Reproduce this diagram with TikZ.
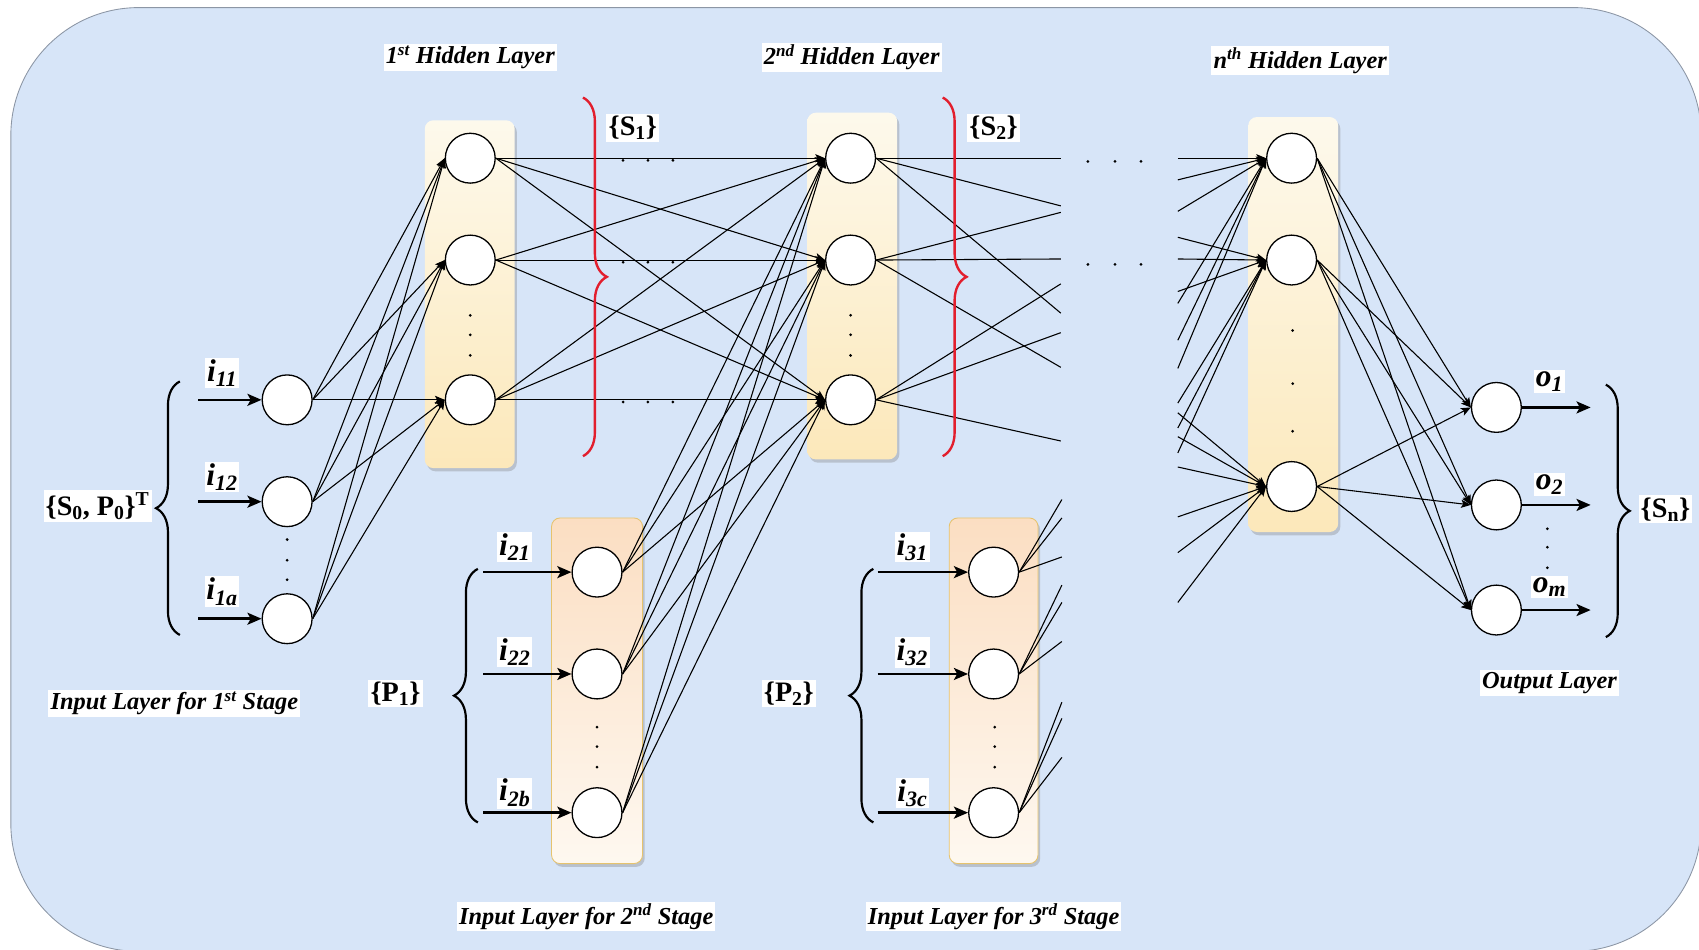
\documentclass[tikz,border=0pt]{standalone}
\usepackage{fontspec}
\setmainfont{Liberation Serif}
\usetikzlibrary{arrows.meta,shadows,decorations.pathreplacing}
\definecolor{bgblue}{RGB}{215,229,248}
\definecolor{bgborder}{RGB}{140,150,165}
\definecolor{hidtop}{RGB}{253,249,236}
\definecolor{hidbot}{RGB}{252,232,186}
\definecolor{intop}{RGB}{251,222,194}
\definecolor{inbot}{RGB}{254,248,240}
\definecolor{inborder}{RGB}{230,195,110}
\definecolor{bracered}{RGB}{226,30,45}
\pgfdeclarelayer{bglayer}
\pgfdeclarelayer{edgelayer}
\pgfsetlayers{bglayer,edgelayer,main}
\begin{document}
\begin{tikzpicture}[x=1pt,y=-1pt,
  bgframe/.style={fill=bgblue,draw=bgborder,line width=0.8pt,rounded corners=118pt},
  neuron/.style={circle,draw=black,fill=white,line width=1.2pt,minimum size=46pt,inner sep=0pt},
  hidbox/.style={rounded corners=8pt,top color=hidtop,bottom color=hidbot,
     drop shadow={shadow xshift=2pt,shadow yshift=-3pt,opacity=0.35,fill=gray}},
  inbox/.style={rounded corners=8pt,top color=intop,bottom color=inbot,draw=inborder,line width=0.8pt,
     drop shadow={shadow xshift=2pt,shadow yshift=-3pt,opacity=0.35,fill=gray}},
  conn/.style={line width=1pt,-{Stealth[length=9pt,width=7.5pt,inset=2pt]}},
  stub/.style={line width=1pt},
  inarrow/.style={line width=2.4pt,-{Stealth[length=13pt,width=11pt,inset=3pt]}},
  lbl/.style={fill=white,inner sep=2pt,font=\fontsize{22.5}{25}\selectfont\bfseries\itshape},
  setlbl/.style={fill=white,inner sep=2pt,font=\fontsize{26}{28}\selectfont\bfseries},
  ilbl/.style={fill=white,inner sep=1.5pt,font=\fontsize{29}{31}\selectfont\bfseries\itshape},
  blkbrace/.style={decorate,decoration={brace,amplitude=22pt},line width=2pt,draw=black},
  redbrace/.style={decorate,decoration={brace,amplitude=22pt},line width=2.2pt,draw=bracered}
]
\useasboundingbox (0,0) rectangle (1568,876);
\begin{pgfonlayer}{bglayer}
\draw[bgframe] (10,7) rectangle (1570,878);
\node[hidbox,minimum width=83pt,minimum height=321pt] (hbox1) at (433.5,271.5) {};
\node[hidbox,minimum width=83pt,minimum height=320pt] (hbox2) at (786.5,264) {};
\node[hidbox,minimum width=83pt,minimum height=383pt] (hboxn) at (1193.5,299.5) {};
\node[inbox,minimum width=84pt,minimum height=319pt] (ibox2) at (551,637.5) {};
\node[inbox,minimum width=82pt,minimum height=319pt] (ibox3) at (917,637.5) {};
\end{pgfonlayer}

% neurons
\foreach \n/\x/\y in {A1/265/369,A2/265/463,A3/265/571,
  H1a/434/146,H1b/434/240,H1c/434/369,
  H2a/785/146,H2b/785/240,H2c/785/369,
  B1/551/528,B2/551/622,B3/551/750,
  C1/917/528,C2/917/622,C3/917/750,
  Hna/1192/146,Hnb/1192/240,Hnc/1192/449,
  O1/1381/376,O2/1381/466,O3/1381/563}
  \node[neuron] (\n) at (\x,\y) {};

% free ends
\foreach \n/\x/\y in {ia1/183/369,ia2/183/463,ia3/183/571,
  ib1/446/528,ib2/446/622,ib3/446/750,
  ic1/810/528,ic2/810/622,ic3/810/750,
  oa1/1468/376,oa2/1468/466,oa3/1468/563,
  sa1/979/146,sa2/979/190,sa3/979/289,
  sb1/979/196,sb2/979/239,sb3/979/339,
  sc1/979/262,sc2/979/307,sc3/979/407,
  ta1/980/461,ta2/980/478,ta3/980/514,
  tb1/980/540,tb2/980/556,tb3/980/592,
  tc1/980/648,tc2/980/663,tc3/980/699,
  qa1/1087/146,qa2/1087/166,qa3/1087/195,qa4/1087/280,qa5/1087/314,qa6/1087/340,
  qb1/1087/219,qb2/1087/239,qb3/1087/269,qb4/1087/372,qb5/1087/395,qb6/1087/418,
  qc1/1087/381,qc2/1087/403,qc3/1087/431,qc4/1087/477,qc5/1087/510,qc6/1087/556}
  \coordinate (\n) at (\x,\y);

\begin{pgfonlayer}{edgelayer}
\foreach \s in {A1,A2,A3} \foreach \t in {H1a,H1b,H1c} \draw[conn] (\s.east) -- (\t.west);
\foreach \s in {H1a,H1b,H1c} \foreach \t in {H2a,H2b,H2c} \draw[conn] (\s.east) -- (\t.west);
\foreach \s in {B1,B2,B3} \foreach \t in {H2a,H2b,H2c} \draw[conn] (\s.east) -- (\t.west);
\foreach \s in {Hna,Hnb,Hnc} \foreach \t in {O1,O2,O3} \draw[conn] (\s.east) -- (\t.west);
\foreach \i in {1,2,3} {
  \draw[stub] (H2a.east) -- (sa\i);
  \draw[stub] (H2b.east) -- (sb\i);
  \draw[stub] (H2c.east) -- (sc\i);
  \draw[stub] (C1.east) -- (ta\i);
  \draw[stub] (C2.east) -- (tb\i);
  \draw[stub] (C3.east) -- (tc\i);
}
\foreach \i in {1,...,6} {
  \draw[conn] (qa\i) -- (Hna.west);
  \draw[conn] (qb\i) -- (Hnb.west);
  \draw[conn] (qc\i) -- (Hnc.west);
}
\end{pgfonlayer}

% input / output arrows
\draw[inarrow] (ia1) -- (A1.west);
\draw[inarrow] (ia2) -- (A2.west);
\draw[inarrow] (ia3) -- (A3.west);
\draw[inarrow] (ib1) -- (B1.west);
\draw[inarrow] (ib2) -- (B2.west);
\draw[inarrow] (ib3) -- (B3.west);
\draw[inarrow] (ic1) -- (C1.west);
\draw[inarrow] (ic2) -- (C2.west);
\draw[inarrow] (ic3) -- (C3.west);
\draw[inarrow] (O1.east) -- (oa1);
\draw[inarrow] (O2.east) -- (oa2);
\draw[inarrow] (O3.east) -- (oa3);

% dots
\foreach \x/\y in {265/498,265/517,265/535, 434/291,434/309,434/328, 785/291,785/309,785/328,
  1193/305,1193/354,1193/398, 551/671,551/689,551/708, 918/671,918/689,918/708,
  1428/488,1428/505,1428/524,
  575/148,598/148,621/148, 575/242,598/242,621/242, 575/371,598/371,621/371,
  1004/149,1029/149,1053/149, 1004/244,1029/244,1053/244}
  \fill[black] (\x,\y) circle[radius=1.4pt];

% braces
\draw[blkbrace] (166,586) -- (166,352);
\draw[blkbrace] (441,759) -- (441,525);
\draw[blkbrace] (806,759) -- (806,525);
\draw[blkbrace] (1482,355) -- (1482,588);
\draw[redbrace] (538,90) -- (538,421);
\draw[redbrace] (870,90) -- (870,421);

% labels
\node[lbl] (t1) at (434,53) {1\textsuperscript{st} Hidden Layer};
\node[lbl] (t2) at (786,53) {2\textsuperscript{nd} Hidden Layer};
\node[lbl] (tn) at (1200,56) {n\textsuperscript{th} Hidden Layer};
\node[lbl] (tin1) at (161,649) {Input Layer for 1\textsuperscript{st} Stage};
\node[lbl] (tin2) at (541,846) {Input Layer for 2\textsuperscript{nd} Stage};
\node[lbl] (tin3) at (917,846) {Input Layer for 3\textsuperscript{rd} Stage};
\node[lbl] (tout) at (1430,630) {Output Layer};

\node[setlbl] (ls0) at (90,467) {\{S\textsubscript{0}, P\textsubscript{0}\}\textsuperscript{T}};
\node[setlbl] (ls1) at (584,118) {\{S\textsubscript{1}\}};
\node[setlbl] (ls2) at (917,118) {\{S\textsubscript{2}\}};
\node[setlbl] (lsn) at (1537,470) {\{S\textsubscript{n}\}};
\node[setlbl] (lp1) at (365,640) {\{P\textsubscript{1}\}};
\node[setlbl] (lp2) at (728,640) {\{P\textsubscript{2}\}};

\node[ilbl] (li11) at (205,344) {i\textsubscript{11}};
\node[ilbl] (li12) at (205,440) {i\textsubscript{12}};
\node[ilbl] (li1a) at (205,546) {i\textsubscript{1a}};
\node[ilbl] (li21) at (475,505) {i\textsubscript{21}};
\node[ilbl] (li22) at (475,602) {i\textsubscript{22}};
\node[ilbl] (li2b) at (475,732) {i\textsubscript{2b}};
\node[ilbl] (li31) at (842,505) {i\textsubscript{31}};
\node[ilbl] (li32) at (842,602) {i\textsubscript{32}};
\node[ilbl] (li3c) at (842,732) {i\textsubscript{3c}};
\node[ilbl] (lo1) at (1430,352) {o\textsubscript{1}};
\node[ilbl] (lo2) at (1430,447) {o\textsubscript{2}};
\node[ilbl] (lom) at (1430,542) {o\textsubscript{m}};
\end{tikzpicture}
\end{document}
